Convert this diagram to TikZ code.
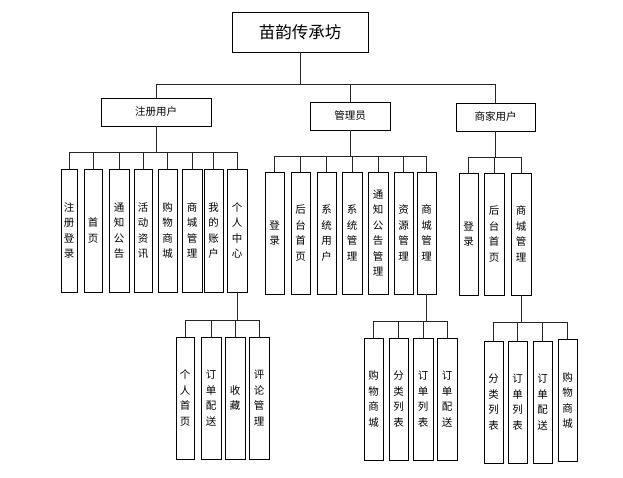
\documentclass[tikz,border=0pt]{standalone}
\usepackage{fontspec}
\newfontfamily\cjk{Noto Sans CJK SC}
\begin{document}
\begin{tikzpicture}[x=1pt,y=-1pt,
  every node/.style={draw=black, line width=0.8pt, inner sep=0pt, align=center},
  rootbox/.style={minimum width=136pt, minimum height=40pt, font=\cjk\fontsize{16.5}{18}\selectfont},
  midbox/.style={minimum height=28pt, font=\cjk\fontsize{10.5}{12}\selectfont},
  leafbox/.style={minimum width=19pt, minimum height=122pt, font=\cjk\fontsize{10.5}{15.5}\selectfont},
  conn/.style={draw=black!85, line width=0.8pt}]
\useasboundingbox (0,0) rectangle (623,477);
% root and second level
\node[rootbox] (root) at (300,32) {苗韵传承坊};
\node[midbox, minimum width=110pt] (user) at (156,112) {注册用户};
\node[midbox, minimum width=80pt] (admin) at (350,116) {管理员};
\node[midbox, minimum width=79pt] (shop) at (495.5,117) {商家用户};
\coordinate (bar0) at (0,84);
\foreach \c in {user,admin,shop}
  \draw[conn] (root.south) -- (root.south |- bar0) -| (\c.north);

% registered user children
\node[leafbox, minimum width=16pt, minimum height=123pt] (u1) at (69,230.5) {注\\册\\登\\录};
\node[leafbox, minimum width=18pt, minimum height=123pt] (u2) at (93,230.5) {首\\页};
\node[leafbox, minimum width=20pt, minimum height=123pt] (u3) at (119,230.5) {通\\知\\公\\告};
\node[leafbox, minimum width=18pt, minimum height=123pt] (u4) at (143,230.5) {活\\动\\资\\讯};
\node[leafbox, minimum height=123pt] (u5) at (167.5,230.5) {购\\物\\商\\城};
\node[leafbox, minimum width=20pt, minimum height=123pt] (u6) at (192,230.5) {商\\城\\管\\理};
\node[leafbox, minimum height=123pt] (u7) at (213.5,230.5) {我\\的\\账\\户};
\node[leafbox, minimum width=20pt, minimum height=123pt] (u8) at (237,230.5) {个\\人\\中\\心};
\coordinate (bar1) at (0,152);
\foreach \c in {u1,u2,u3,u4,u5,u6,u7,u8}
  \draw[conn] (user.south) -- (user.south |- bar1) -| (\c.north);

% personal center children
\node[leafbox, minimum width=18pt] (p1) at (185,398) {个\\人\\首\\页};
\node[leafbox, minimum width=20pt] (p2) at (211,398) {订\\单\\配\\送};
\node[leafbox, minimum width=20pt] (p3) at (235,398) {收\\藏};
\node[leafbox, minimum width=20pt] (p4) at (259,398) {评\\论\\管\\理};
\coordinate (bar2) at (0,320);
\foreach \c in {p1,p2,p3,p4}
  \draw[conn] (u8.south) -- (u8.south |- bar2) -| (\c.north);

% admin children
\node[leafbox] (a1) at (274.5,233) {登\\录};
\node[leafbox] (a2) at (300.5,233) {后\\台\\首\\页};
\node[leafbox] (a3) at (326.5,233) {系\\统\\用\\户};
\node[leafbox, minimum width=20pt] (a4) at (352,233) {系\\统\\管\\理};
\node[leafbox, minimum width=20pt] (a5) at (378,233) {通\\知\\公\\告\\管\\理};
\node[leafbox] (a6) at (403.5,233) {资\\源\\管\\理};
\node[leafbox] (a7) at (426.5,233) {商\\城\\管\\理};
\coordinate (bar3) at (0,156);
\foreach \c in {a1,a2,a3,a4,a5,a6,a7}
  \draw[conn] (admin.south) -- (admin.south |- bar3) -| (\c.north);

% admin mall management children
\node[leafbox] (m1) at (373.5,399) {购\\物\\商\\城};
\node[leafbox] (m2) at (398.5,399) {分\\类\\列\\表};
\node[leafbox, minimum width=20pt] (m3) at (423,399) {订\\单\\列\\表};
\node[leafbox, minimum width=20pt] (m4) at (447,399) {订\\单\\配\\送};
\coordinate (bar4) at (0,321);
\foreach \c in {m1,m2,m3,m4}
  \draw[conn] (a7.south) -- (a7.south |- bar4) -| (\c.north);

% merchant children
\node[leafbox] (s1) at (468.5,234) {登\\录};
\node[leafbox, minimum width=20pt] (s2) at (494,234) {后\\台\\首\\页};
\node[leafbox, minimum width=20pt] (s3) at (521,234) {商\\城\\管\\理};
\coordinate (bar5) at (0,157);
\foreach \c in {s1,s2,s3}
  \draw[conn] (shop.south) -- (shop.south |- bar5) -| (\c.north);

% merchant mall management children
\node[leafbox] (t1) at (493.5,402) {分\\类\\列\\表};
\node[leafbox] (t2) at (517.5,402) {订\\单\\列\\表};
\node[leafbox] (t3) at (542.5,402) {订\\单\\配\\送};
\node[leafbox] (t4) at (567.5,400.5) {购\\物\\商\\城};
\coordinate (bar6) at (0,322);
\foreach \c in {t1,t2,t3,t4}
  \draw[conn] (s3.south) -- (s3.south |- bar6) -| (\c.north);
\end{tikzpicture}
\end{document}
